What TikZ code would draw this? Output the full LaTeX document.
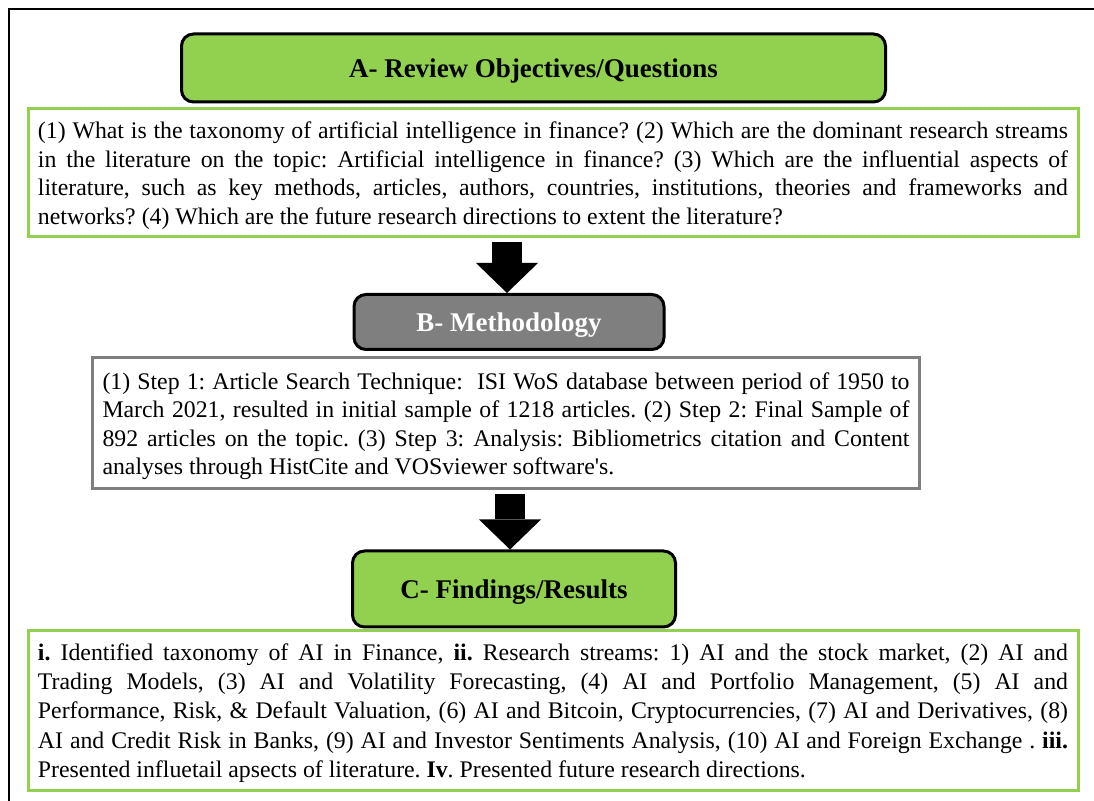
\documentclass[tikz,border=0pt]{standalone}
\usepackage{fontspec}
\setmainfont{Liberation Serif}
\usepackage{xcolor}
\usepackage{tikz}
\usetikzlibrary{arrows.meta,positioning}
\definecolor{verde}{HTML}{92D050}
\definecolor{gris}{HTML}{7F7F7F}
\tikzset{
  head/.style={rounded corners=6pt,draw=black,line width=1.5pt,font=\fontsize{13.5}{15}\selectfont\bfseries,inner sep=0pt},
  textbox/.style={fill=white,line width=1.5pt,align=justify,inner xsep=5pt,inner ysep=0pt,font=\fontsize{11.9}{14.3}\selectfont\frenchspacing},
  blockarrow/.style={line width=15pt,-{Triangle[length=15pt,width=31pt,line width=0pt]},shorten <=2pt}
}
\newcommand{\alto}{\rule{0pt}{11pt}}

\begin{document}
\begin{tikzpicture}[x=0.5pt,y=-0.5pt]
\useasboundingbox (0,0) rectangle (1094,801);
% marco exterior
\draw[line width=1pt] (9,801) -- (9,9) -- (1094,9);
% A
\node[head,fill=verde,minimum width=352pt,minimum height=34pt] (titA) at (533.5,68) {\rule{0pt}{12pt}A- Review Objectives/Questions};
\node[textbox,draw=verde,text width=515pt,minimum height=64pt] (txtA) at (553,173)
 {\alto(1) What is the taxonomy of artificial intelligence in finance? (2) Which are the dominant research streams\linebreak
 in the literature on the topic: Artificial intelligence in finance? (3) Which are the influential aspects of\linebreak
 literature, such as key methods, articles, authors, countries, institutions, theories and frameworks and\linebreak
 networks? (4) Which are the future research directions to extent the literature?};
% B
\node[head,fill=gris,text=white,minimum width=155pt,minimum height=27.5pt] (titB) at (509,322) {\rule{0pt}{12pt}B- Methodology};
\node[textbox,draw=gris,text width=403.5pt,minimum height=65.5pt] (txtB) at (506,423.5)
 {\alto(1) Step 1: Article Search Technique:\ \ ISI WoS database between period of 1950 to\linebreak
 March 2021, resulted in initial sample of 1218 articles. (2) Step 2: Final Sample of\linebreak
 892 articles on the topic. (3) Step 3: Analysis: Bibliometrics citation and Content\linebreak
 analyses through HistCite and VOSviewer software\textquotesingle s.};
% C
\node[head,fill=verde,minimum width=161.5pt,minimum height=38pt] (titC) at (514,589) {\rule{0pt}{12pt}C- Findings/Results};
\node[textbox,draw=verde,text width=515pt,minimum height=80pt,font=\fontsize{11.9}{14.6}\selectfont\frenchspacing] (txtC) at (553,710.5)
 {\alto\textbf{i.} Identified taxonomy of AI in Finance, \textbf{ii.} Research streams: 1) AI and the stock market, (2) AI and\linebreak
 Trading Models, (3) AI and Volatility Forecasting, (4) AI and Portfolio Management, (5) AI and\linebreak
 Performance, Risk, \& Default Valuation, (6) AI and Bitcoin, Cryptocurrencies, (7) AI and Derivatives, (8)\linebreak
 AI and Credit Risk in Banks, (9) AI and Investor Sentiments Analysis, (10) AI and Foreign Exchange . \textbf{iii.}\linebreak
 Presented influetail apsects of literature. \textbf{Iv}. Presented future research directions.};
% flechas
\draw[blockarrow] (txtA.south -| 507,0) -- (titB.north -| 507,0);
\draw[blockarrow] (txtB.south -| 510,0) -- (titC.north -| 510,0);
\end{tikzpicture}
\end{document}
